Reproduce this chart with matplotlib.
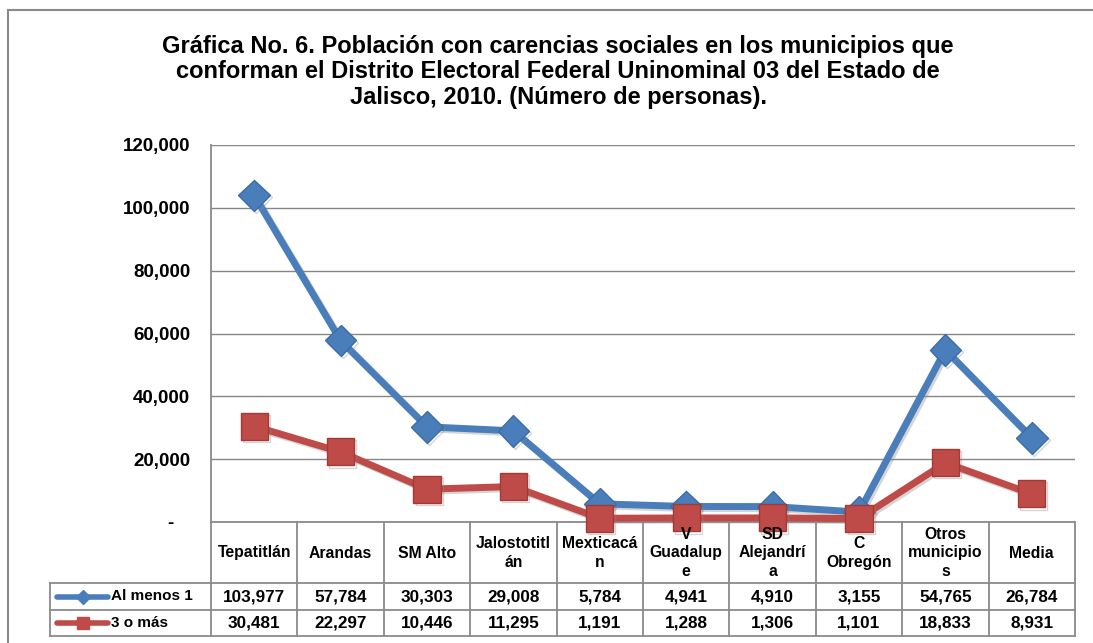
import matplotlib
matplotlib.use('Agg')
import matplotlib.pyplot as plt
from matplotlib.lines import Line2D
from matplotlib.transforms import blended_transform_factory
import matplotlib.patheffects as pe

plt.rcParams['font.family'] = ['Liberation Sans', 'DejaVu Sans']
plt.rcParams['font.weight'] = 'bold'

# ---------------- data ----------------
title = ("Gráfica No. 6. Población con carencias sociales en los municipios que\n"
         "conforman el Distrito Electoral Federal Uninominal 03 del Estado de\n"
         "Jalisco, 2010. (Número de personas).")
categories = ['Tepatitlán', 'Arandas', 'SM Alto', 'Jalostotitl\nán', 'Mexticacá\nn',
              'V\nGuadalup\ne', 'SD\nAlejandrí\na', 'C\nObregón',
              'Otros\nmunicipio\ns', 'Media']
al_menos_1 = [103977, 57784, 30303, 29008, 5784, 4941, 4910, 3155, 54765, 26784]
tres_o_mas = [30481, 22297, 10446, 11295, 1191, 1288, 1306, 1101, 18833, 8931]
series_names = ['Al menos 1', '3 o más']
y_ticks = [0, 20000, 40000, 60000, 80000, 100000, 120000]
y_tick_labels = ['-   ', '20,000', '40,000', '60,000', '80,000', '100,000', '120,000']

# ---------------- style ----------------
W, H = 1093, 643
BLUE, BLUE_E = '#4A7EBB', '#3B6DA8'
RED, RED_E = '#BE4B48', '#A23A37'
GRID = '#868686'
TBL = '#8A8A8A'

fig = plt.figure(figsize=(W / 100, H / 100), dpi=100)
fig.patch.set_facecolor('white')

def fx(px):
    return px / W

def fy(py):
    return 1 - py / H

ax_l, ax_r, ax_t, ax_b = 211, 1075, 145, 522
ax = fig.add_axes([fx(ax_l), fy(ax_b), fx(ax_r) - fx(ax_l), fy(ax_t) - fy(ax_b)])

n = len(categories)
x = list(range(n))
ax.set_xlim(-0.5, n - 0.5)
ax.set_ylim(0, 120000)
ax.set_yticks(y_ticks)
ax.set_yticklabels(y_tick_labels, fontsize=13.5, fontweight='bold')
ax.tick_params(axis='y', length=0, pad=15)
ax.set_xticks([])
ax.grid(axis='y', color=GRID, linewidth=1.0, zorder=0)
ax.set_axisbelow(True)
for s in ['top', 'right']:
    ax.spines[s].set_visible(False)
ax.spines['left'].set_color(TBL)
ax.spines['bottom'].set_color(TBL)
ax.spines['left'].set_linewidth(1.3)
ax.spines['bottom'].set_linewidth(1.3)

shadow = [pe.SimpleLineShadow(offset=(1.5, -1.5), shadow_color='#888888', alpha=0.35), pe.Normal()]

ax.plot(x, al_menos_1, color=BLUE, lw=5, marker='D', ms=16, mfc=BLUE, mec=BLUE_E,
        mew=1, clip_on=False, zorder=5, path_effects=shadow, solid_joinstyle='round')
ax.plot(x, tres_o_mas, color=RED, lw=5, marker='s', ms=19.5, mfc=RED, mec=RED_E,
        mew=1, clip_on=False, zorder=6, path_effects=shadow, solid_joinstyle='round')

# ---------------- title ----------------
fig.text(fx(558), fy(72), title, ha='center', va='center', fontsize=17,
         fontweight='bold', linespacing=1.16)

# ---------------- outer frame ----------------
fig.add_artist(Line2D([fx(8), 1.0], [fy(10), fy(10)], transform=fig.transFigure, color=TBL, lw=1.5))
fig.add_artist(Line2D([fx(8), fx(8)], [fy(10), 0.0], transform=fig.transFigure, color=TBL, lw=1.5))

# ---------------- data table ----------------
bt = blended_transform_factory(ax.transData, fig.transFigure)
hdr_top, hdr_bot, r1_bot, r2_bot = 522, 583, 610, 636
leg_left = 50

for i in range(n + 1):
    xb = -0.5 + i
    fig.add_artist(Line2D([xb, xb], [fy(hdr_top), fy(r2_bot)], transform=bt, color=TBL, lw=1.3, zorder=1))
for yy in [hdr_bot, r1_bot, r2_bot]:
    fig.add_artist(Line2D([fx(leg_left), fx(ax_r)], [fy(yy), fy(yy)], transform=fig.transFigure,
                          color=TBL, lw=1.3, zorder=1))
fig.add_artist(Line2D([fx(leg_left), fx(leg_left)], [fy(hdr_bot), fy(r2_bot)], transform=fig.transFigure,
                      color=TBL, lw=1.3, zorder=1))

hdr_c = (hdr_top + hdr_bot) / 2
for i, c in enumerate(categories):
    fig.text(i, fy(hdr_c + 0.5), c, transform=bt, ha='center', va='center', fontsize=11.3,
             fontweight='bold', linespacing=1.28, zorder=2)

rows = [(al_menos_1, BLUE, 'D', 7, (hdr_bot + r1_bot) / 2),
        (tres_o_mas, RED, 's', 9, (r1_bot + r2_bot) / 2)]
for (vals, col, mk, ms, yc), name in zip(rows, series_names):
    for i, v in enumerate(vals):
        fig.text(i, fy(yc), f"{v:,}", transform=bt, ha='center', va='center',
                 fontsize=12.3, fontweight='bold')
    fig.add_artist(Line2D([fx(57), fx(108)], [fy(yc), fy(yc)], transform=fig.transFigure,
                          color=col, lw=4, solid_capstyle='round'))
    fig.add_artist(Line2D([fx(83)], [fy(yc)], transform=fig.transFigure, color=col,
                          marker=mk, ms=ms, mec=col, lw=0))
    fig.text(fx(111), fy(yc), name, ha='left', va='center', fontsize=11, fontweight='bold')

fig.savefig('out.png', dpi=100)
